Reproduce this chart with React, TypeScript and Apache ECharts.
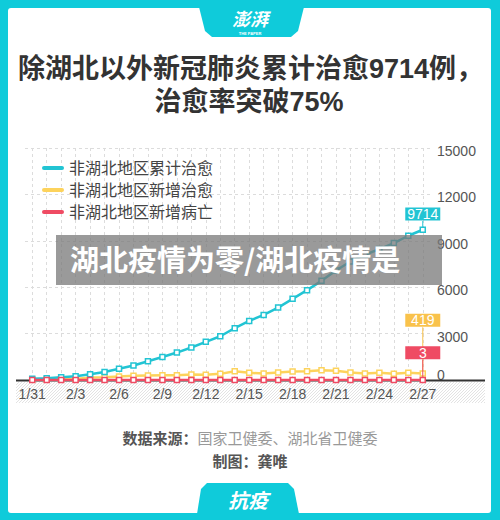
import React, { useEffect, useRef } from 'react';
import * as echarts from 'echarts';

const dates = [
    '1/31', '2/1', '2/2', '2/3', '2/4', '2/5', '2/6', '2/7', '2/8', '2/9',
    '2/10', '2/11', '2/12', '2/13', '2/14', '2/15', '2/16', '2/17', '2/18', '2/19',
    '2/20', '2/21', '2/22', '2/23', '2/24', '2/25', '2/26', '2/27',
];
const cumCured = [
    77, 113, 180, 236, 372, 520, 723, 935, 1210, 1486,
    1774, 2101, 2470, 2830, 3348, 3821, 4210, 4683, 5246, 5810,
    6412, 7079, 7662, 8096, 8465, 8854, 9326, 9714,
];
const newCured = [
    12, 36, 58, 60, 160, 180, 225, 268, 290, 310,
    310, 354, 333, 397, 570, 462, 419, 484, 548, 570,
    635, 592, 484, 419, 462, 397, 462, 419,
];
const newDeaths = [
    0, 1, 0, 1, 1, 1, 2, 1, 1, 3,
    2, 1, 2, 3, 2, 2, 3, 3, 2, 3,
    3, 3, 3, 2, 3, 3, 2, 3,
];
const seriesNames = ['非湖北地区累计治愈', '非湖北地区新增治愈', '非湖北地区新增病亡'];
const yTicks = { min: 0, max: 15000, interval: 3000 };

const TEAL = '#22c4d3';
const YELLOW = '#fdd35c';
const RED = '#ef4b63';
const BORDER = '#0fcbda';
const FONT = "'Liberation Sans', 'Noto Sans CJK SC', sans-serif";
const PILL = 'path://M2 0H20A2 2 0 0 1 20 4H2A2 2 0 0 1 2 0Z';

// diagonal hatch below the x axis
const makeHatch = () => {
    const out: any[] = [];
    const x0 = 16, x1 = 485, y0 = 382, y1 = 403, h = y1 - y0;
    for (let x = x0 - h; x < x1; x += 3) {
        let ax = x, ay = y1, bx = x + h, by = y0;
        if (ax < x0) { ay = y1 - (x0 - ax); ax = x0; }
        if (bx > x1) { by = y0 + (bx - x1); bx = x1; }
        out.push({
            type: 'line',
            silent: true,
            z: 0,
            shape: { x1: ax, y1: ay, x2: bx, y2: by },
            style: { stroke: '#e3e3e3', lineWidth: 1 },
        });
    }
    return out;
};

const makeSeries = (name: string, data: number[], color: string, labelBg: string, dy: number, z: number) => ({
    name,
    type: 'line',
    z,
    data: data.map((v, i) => (i === data.length - 1 ? { value: v, label: { show: true } } : v)),
    symbol: 'rect',
    symbolSize: 5,
    showAllSymbol: true,
    lineStyle: { color, width: 2.5 },
    itemStyle: { color: '#fff', borderColor: color, borderWidth: 1.5 },
    label: {
        show: false,
        position: 'top',
        color: '#fff',
        backgroundColor: labelBg,
        fontSize: 14,
        lineHeight: 13,
        padding: [0, 3],
        width: 29,
        align: 'center',
        fontFamily: FONT,
    },
    labelLine: { show: true, lineStyle: { color: labelBg, width: 1 } },
    labelLayout: { dy },
});

const App: React.FC = () => {
    const chartRef = useRef<HTMLDivElement>(null);

    useEffect(() => {
        const chart = echarts.init(chartRef.current!, undefined, { renderer: 'svg' });
        chart.setOption({
            animation: false,
            textStyle: { fontFamily: FONT },
            grid: { left: 25, right: 70, top: 148, bottom: 140 },
            legend: {
                orient: 'vertical',
                left: 37,
                top: 155,
                itemWidth: 22,
                itemHeight: 4,
                itemGap: 6,
                icon: PILL,
                textStyle: { fontSize: 16, color: '#444', lineHeight: 16, padding: [0, 0, 0, 0] },
                data: [
                    { name: seriesNames[0], itemStyle: { color: TEAL, borderWidth: 0 } },
                    { name: seriesNames[1], itemStyle: { color: YELLOW, borderWidth: 0 } },
                    { name: seriesNames[2], itemStyle: { color: RED, borderWidth: 0 } },
                ],
            },
            xAxis: {
                type: 'category',
                data: dates,
                boundaryGap: true,
                axisLine: { show: false },
                axisTick: { show: false },
                axisLabel: { interval: 2, margin: 7, fontSize: 14, color: '#555' },
                splitLine: {
                    show: true,
                    interval: 0,
                    alignWithLabel: true,
                    lineStyle: { color: '#dcdcdc', type: [3, 3], width: 1 },
                } as any,
            },
            yAxis: {
                type: 'value',
                position: 'right',
                min: yTicks.min,
                max: yTicks.max,
                interval: yTicks.interval,
                axisLine: { show: false },
                axisTick: { show: false },
                axisLabel: {
                    margin: 7,
                    fontSize: 14,
                    color: '#555',
                    formatter: (v: number) => (v === 0 ? '{z|0}' : '{n|' + v + '}'),
                    rich: {
                        n: { fontSize: 14, color: '#555', padding: [6, 0, 0, 0] },
                        z: { fontSize: 14, color: '#555', padding: [0, 0, 11, 0] },
                    },
                },
                splitLine: { lineStyle: { color: '#dcdcdc', type: [3, 3], width: 1 } },
            },
            series: [
                makeSeries(seriesNames[0], cumCured, TEAL, TEAL, -1, 4),
                makeSeries(seriesNames[1], newCured, YELLOW, '#f9c24b', -38.5, 3),
                makeSeries(seriesNames[2], newDeaths, RED, RED, -12.5, 5),
            ],
            graphic: [
                { type: 'rect', z: -20, silent: true, shape: { x: 0, y: 0, width: 500, height: 520 }, style: { fill: BORDER } },
                { type: 'rect', z: -19, silent: true, shape: { x: 8, y: 8, width: 483, height: 505, r: 3 }, style: { fill: '#fff' } },
                {
                    type: 'polygon', z: -18, silent: true,
                    shape: { points: [[199, 7], [304, 7], [298, 31], [291, 37], [212, 37], [205, 31]] },
                    style: { fill: BORDER },
                },
                {
                    type: 'text', z: -17, x: 250, y: 18,
                    style: { text: '澎湃', fill: '#fff', font: "italic bold 18px 'Noto Sans CJK SC'", lineHeight: 18, align: 'center', verticalAlign: 'middle' },
                },
                {
                    type: 'text', z: -17, x: 250, y: 33,
                    style: { text: 'THE PAPER', fill: '#fff', font: "bold 4px 'Liberation Sans'", lineHeight: 4, align: 'center', verticalAlign: 'middle' },
                },
                {
                    type: 'polygon', z: -18, silent: true,
                    shape: { points: [[197, 514], [299, 514], [294, 489], [288, 483], [207, 483], [201, 489]] },
                    style: { fill: BORDER },
                },
                {
                    type: 'text', z: -17, x: 248, y: 499,
                    style: { text: '抗疫', fill: '#fff', font: "italic bold 20px 'Noto Sans CJK SC'", align: 'center', verticalAlign: 'middle' },
                },
                {
                    type: 'text', x: 18, y: 68.5,
                    style: { text: '除湖北以外新冠肺炎累计治愈9714例，', fill: '#333', font: "bold 27px " + FONT, align: 'left', verticalAlign: 'middle' },
                },
                {
                    type: 'text', x: 249, y: 102,
                    style: { text: '治愈率突破75%', fill: '#333', font: "bold 27px " + FONT, align: 'center', verticalAlign: 'middle' },
                },
                ...makeHatch(),
                { type: 'line', z: 1, silent: true, shape: { x1: 16, y1: 380.5, x2: 485, y2: 380.5 }, style: { stroke: '#333', lineWidth: 2 } },
                {
                    type: 'text', x: 250, y: 437,
                    style: {
                        text: '{b|数据来源：}{n|国家卫健委、湖北省卫健委}',
                        align: 'center',
                        verticalAlign: 'middle',
                        rich: {
                            b: { fontSize: 15, fontWeight: 'bold', fill: '#555', fontFamily: "'Noto Sans CJK SC'" },
                            n: { fontSize: 15, fill: '#999', fontFamily: "'Noto Sans CJK SC'" },
                        },
                    },
                },
                {
                    type: 'text', x: 250, y: 460,
                    style: { text: '制图：龚唯', fill: '#555', font: "bold 15px 'Noto Sans CJK SC'", align: 'center', verticalAlign: 'middle' },
                },
                { type: 'rect', z: 100, silent: true, shape: { x: 56, y: 235, width: 386, height: 50 }, style: { fill: 'rgba(120,120,120,0.75)' } },
                {
                    type: 'text', z: 101, x: 70, y: 258,
                    style: { text: '湖北疫情为零/湖北疫情是', fill: '#fff', font: "bold 29px 'Noto Sans CJK SC'", align: 'left', verticalAlign: 'middle' },
                },
            ],
        });
        return () => {
            chart.dispose();
        };
    }, []);

    return <div ref={chartRef} style={{ position: 'absolute', left: 0, top: 0, width: 500, height: 520 }} />;
};

export default App;
